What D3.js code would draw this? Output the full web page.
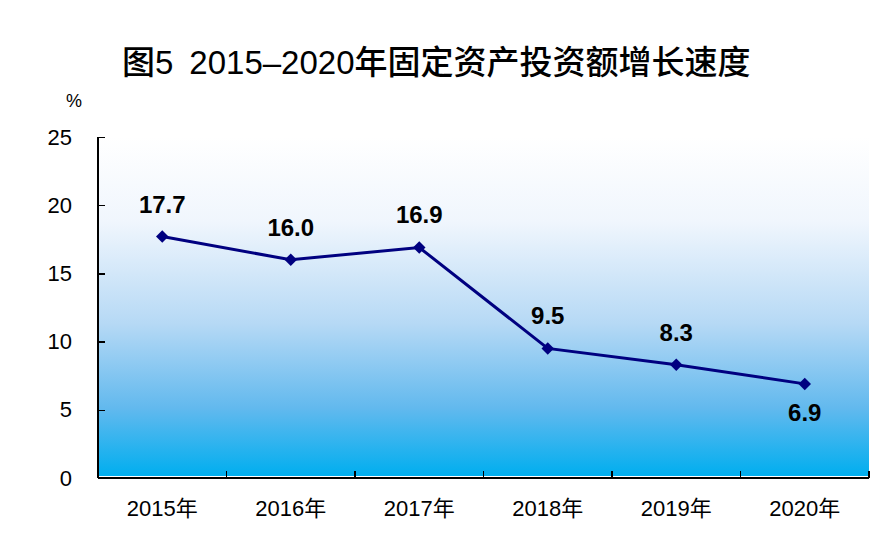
<!DOCTYPE html>
<html>
<head>
<meta charset='utf-8'>
<script src='https://d3js.org/d3.v7.min.js'></script>
<style>
body {margin:0; background:#fff;}
.title {font-family:'Liberation Sans','Noto Sans CJK SC',sans-serif; font-size:33px; font-weight:500;}
.axis path, .axis line {stroke:#000; stroke-width:1.5; shape-rendering:crispEdges;}
.lbl {font-family:'Liberation Sans',Arial,sans-serif; font-size:24px; font-weight:bold;}
</style>
</head>
<body>
<svg id='chart' width='896' height='539'></svg>
<script>
var years=['2015年','2016年','2017年','2018年','2019年','2020年'];
var growth=[17.7,16.0,16.9,9.5,8.3,6.9];
var yTicks=[0,5,10,15,20,25];
var labelBelow=[false,false,false,false,false,true];

var m={top:137,right:27,bottom:61,left:98};
var W=896,H=539,w=W-m.left-m.right,h=H-m.top-m.bottom;

var svg=d3.select('#chart');
var defs=svg.append('defs');
var grad=defs.append('linearGradient').attr('id','bg').attr('x1',0).attr('y1',0).attr('x2',0).attr('y2',1);
[[0,'#ffffff'],[0.25,'#f0f6fd'],[0.55,'#b6d9f5'],[0.8,'#62b9ee'],[1,'#00aeef']].forEach(function(s){
  grad.append('stop').attr('offset',s[0]).attr('stop-color',s[1]);
});

var title=svg.append('text').attr('class','title').attr('y',74).attr('x',122);
title.append('tspan').text('图5');
title.append('tspan').attr('dx',16).text('2015–2020年固定资产投资额增长速度');

var g=svg.append('g').attr('transform','translate('+m.left+','+m.top+')');
var x=d3.scaleBand().domain(years).range([0,w]);
var y=d3.scaleLinear().domain([0,25]).range([h,0]);

g.append('rect').attr('x',0).attr('y',0).attr('width',w).attr('height',h-2).attr('fill','url(#bg)');

// y axis
var ya=g.append('g').attr('class','axis')
  .call(d3.axisLeft(y).tickValues(yTicks).tickSize(-7).tickPadding(26).tickFormat(d3.format('d')));
ya.select('.domain').attr('d','M0,'+h+'V0');
ya.selectAll('text').style('font-family','Liberation Sans,sans-serif').style('font-size','22px').style('fill','#000');

svg.append('text').attr('x',74).attr('y',107).attr('text-anchor','middle')
   .style('font-family','Liberation Sans,sans-serif').style('font-size','18px').text('%');

// x axis with boundary ticks
var xa=g.append('g').attr('class','axis').attr('transform','translate(0,'+h+')')
  .call(d3.axisBottom(x).tickSize(0).tickPadding(22));
xa.select('.domain').attr('d','M0,0H'+w);
xa.selectAll('text').style('font-family','Liberation Sans,Noto Sans CJK SC,sans-serif').style('font-size','22px').style('fill','#000');
xa.selectAll('.bnd').data(d3.range(1,years.length+1)).enter().append('line').attr('class','bnd')
  .attr('x1',function(i){return x.step()*i}).attr('x2',function(i){return x.step()*i})
  .attr('y1',0).attr('y2',-7);

var cx=function(d,i){return x(years[i])+x.bandwidth()/2};
var line=d3.line().x(cx).y(function(d){return y(d)});
g.append('path').datum(growth).attr('d',line).attr('fill','none')
 .attr('stroke','#000080').attr('stroke-width',3);

g.selectAll('.pt').data(growth).enter().append('path').attr('class','pt')
 .attr('d',d3.symbol().type(d3.symbolSquare).size(78))
 .attr('transform',function(d,i){return 'translate('+cx(d,i)+','+y(d)+') rotate(45)'})
 .attr('fill','#000080');

g.selectAll('.lbl').data(growth).enter().append('text').attr('class','lbl')
 .attr('text-anchor','middle').attr('x',cx)
 .attr('y',function(d,i){return y(d)+(labelBelow[i]?37:-24)})
 .text(function(d){return d.toFixed(1)});
</script>
</body>
</html>
